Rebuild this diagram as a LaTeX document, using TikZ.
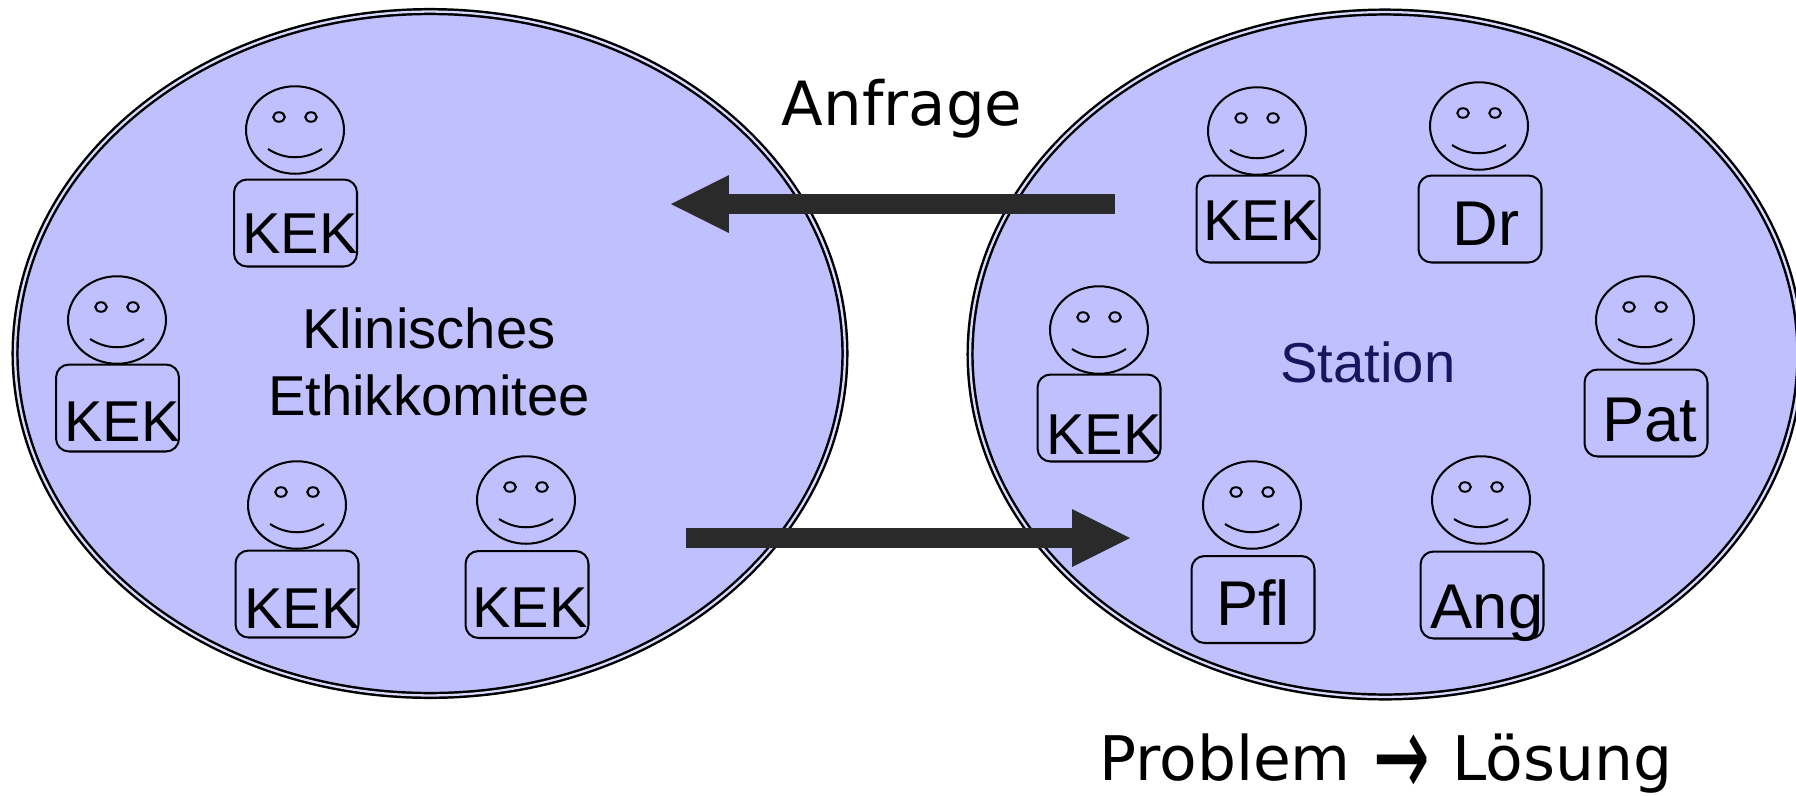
\documentclass[tikz,border=0pt]{standalone}
\usepackage{fontspec}
\setmainfont{Liberation Sans}
\newfontfamily\headfont{DejaVu Sans}
\usetikzlibrary{shapes.geometric,arrows.meta}
\definecolor{lilac}{HTML}{C0C0FF}
\definecolor{darkbar}{HTML}{2A2A2A}
\definecolor{navy}{HTML}{16165E}
\newcommand*\biglabel{\fontsize{36}{40}\selectfont}
\newcommand*\tallarrow{\kern1.5pt\smash{\raisebox{-9pt}{\scalebox{1.1}[1.9]{→}}}\kern2pt}
% one person: name, head, body, text baseline, label
\newcommand*\person[5]{
	\node[headshape] (#1head) at (#2) {};
	\node[eyeshape] (#1eyel) at ([xshift=-.32cm,yshift=.26cm]#1head.center) {};
	\node[eyeshape] (#1eyer) at ([xshift=.32cm,yshift=.26cm]#1head.center) {};
	\draw[thinline] ([xshift=-.54cm,yshift=-.38cm]#1head.center) .. controls ([xshift=-.2cm,yshift=-.6cm]#1head.center) and ([xshift=.2cm,yshift=-.6cm]#1head.center) .. ([xshift=.54cm,yshift=-.38cm]#1head.center);
	\node[bodyshape] (#1body) at (#3) {};
	\node[bodytext] (#1text) at (#4) {#5};
}
\begin{document}
\begin{tikzpicture}[x=0.02cm,y=-0.02cm,
				thinline/.style={line width=1.15pt},
				headshape/.style={draw,thinline,ellipse,inner sep=0pt,minimum width=1.96cm,minimum height=1.75cm},
				eyeshape/.style={draw,thinline,ellipse,inner sep=0pt,minimum width=.23cm,minimum height=.19cm},
				bodyshape/.style={draw,thinline,rectangle,rounded corners=.26cm,inner sep=0pt,minimum width=2.46cm,minimum height=1.74cm},
				bodytext/.style={anchor=base,inner sep=0pt,font=\fontsize{32.8}{36}\selectfont},
				group/.style={draw,ellipse,fill=lilac,line width=1.4pt,double=lilac!60!white,double distance=1.3pt,inner sep=0pt},
				bigtext/.style={inner sep=0pt,align=center,font=\fontsize{32}{33}\selectfont},
				bigarrow/.style={draw=darkbar,line width=11.34pt,-{Triangle[length=33pt,width=33pt,line width=0pt,fill=darkbar]}},
				headline/.style={anchor=base,inner sep=0pt,font=\headfont\fontsize{34.7}{36}\selectfont}]
				\useasboundingbox (0,0) rectangle (1796,795);
				\node[group,minimum width=16.6cm,minimum height=13.68cm] (komitee) at (430,353.5) {};
				\node[group,minimum width=16.6cm,minimum height=13.7cm] (station) at (1385,354.5) {};
				\person{ka}{295,130}{295.5,223}{300,253}{KEK}
				\person{kb}{117,320}{117.5,408}{122,441}{KEK}
				\person{kc}{297,505}{297,594}{302,628}{KEK}
				\person{kd}{526,500}{527,594.5}{530,627}{KEK}
				\person{sa}{1257,131}{1258,219}{1261,240}{KEK}
				\person{sb}{1479,126}{1480,219}{1486,245}{\biglabel Dr}
				\person{sc}{1645,320}{1646,413}{1649.5,441}{\biglabel Pat}
				\person{sd}{1099,330}{1099,418}{1104,454}{KEK}
				\person{se}{1252,505}{1253,599.5}{1253,625}{\biglabel Pfl}
				\person{sf}{1481,500}{1482,595}{1487,628}{\biglabel Ang}
				\node[bigtext] (komiteetext) at (429,362) {Klinisches\\[4.7pt]Ethikkomitee};
				\node[bigtext,text=navy] (stationtext) at (1368,362) {Station};
				\coordinate (anfragestart) at (1115,204);
				\coordinate (anfrageend) at (671,204);
				\coordinate (antwortstart) at (686,538);
				\coordinate (antwortend) at (1130,538);
				\draw[bigarrow] (anfragestart) -- (anfrageend);
				\draw[bigarrow] (antwortstart) -- (antwortend);
				\node[headline] (anfrage) at (902,125) {Anfrage};
				\node[headline,font=\headfont\fontsize{35}{37}\selectfont] (problem) at (1386,780.5) {Problem \tallarrow{} Lösung};
\end{tikzpicture}
\end{document}
